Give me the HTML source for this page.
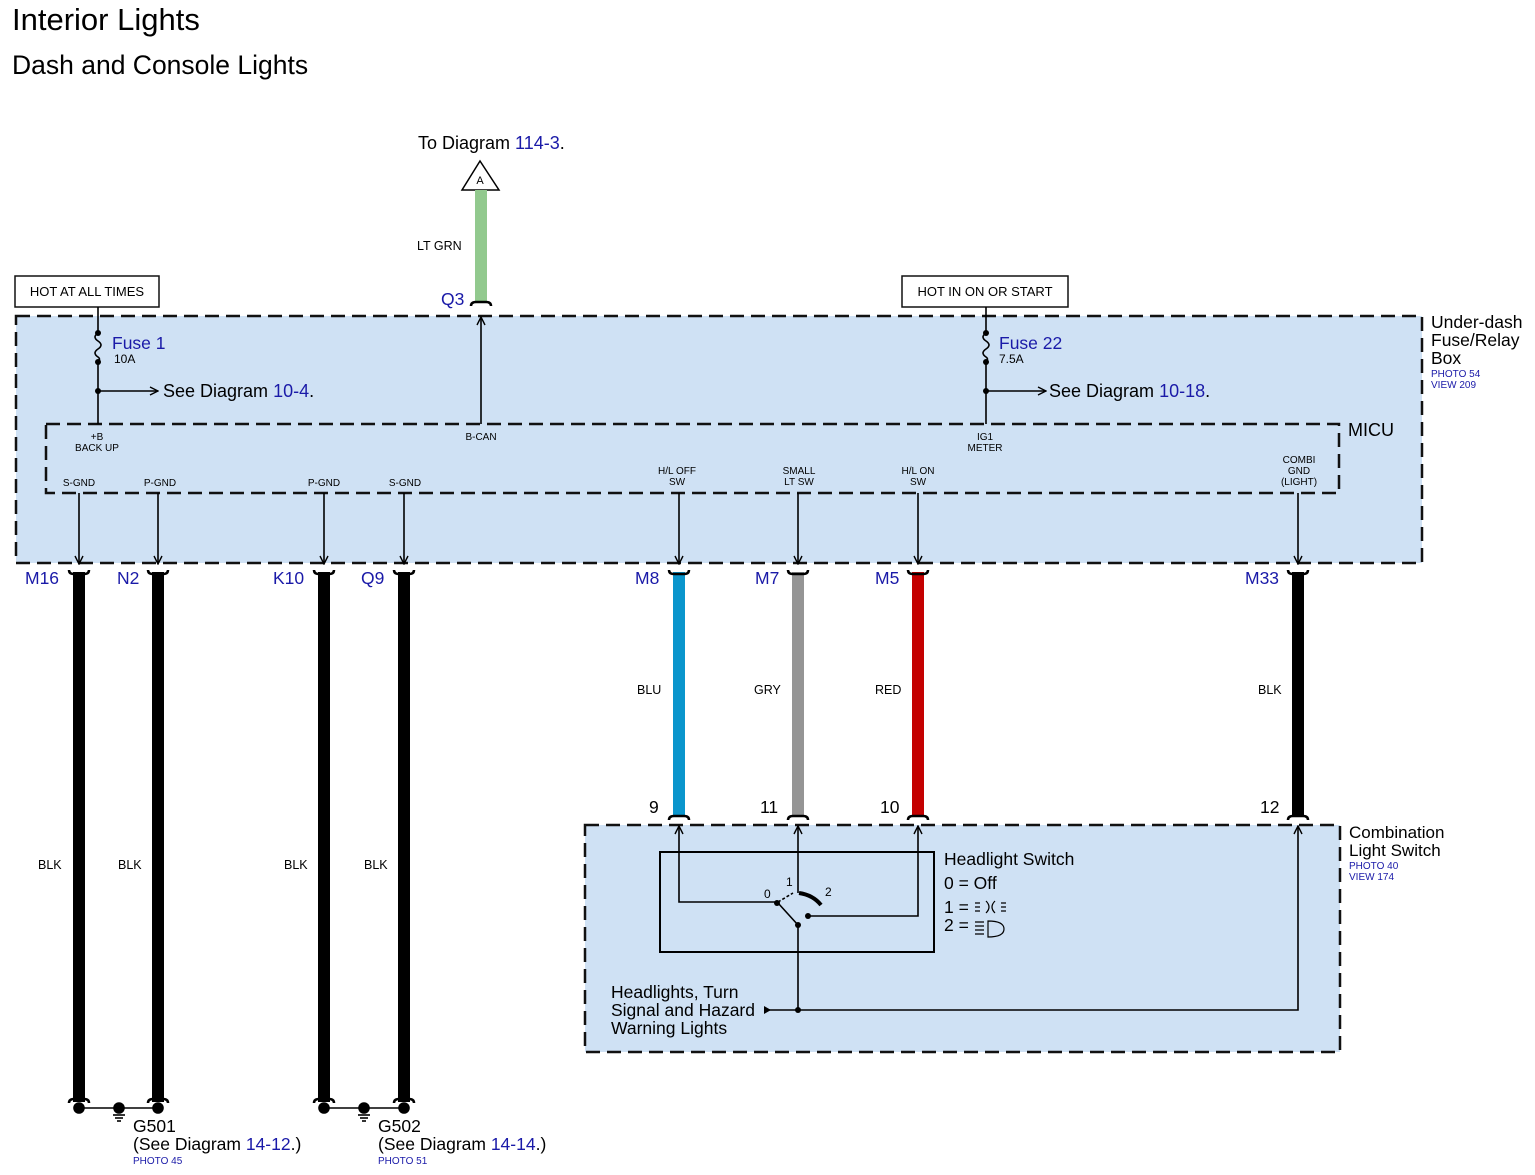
<!DOCTYPE html>
<html><head><meta charset="utf-8"><style>
html,body{margin:0;padding:0;background:#fff}
svg{display:block}
text{font-family:"Liberation Sans",Arial,sans-serif}
.b{fill:#1a1aa8}
</style></head><body>
<svg width="1535" height="1175" viewBox="0 0 1535 1175" xmlns="http://www.w3.org/2000/svg">
<defs>
<marker id="ar" markerWidth="10" markerHeight="10" refX="9" refY="5" orient="auto" markerUnits="userSpaceOnUse"><path d="M1,1 L9,5 L1,9" fill="none" stroke="#000" stroke-width="1.4"/></marker>
</defs>
<text x="12" y="30" font-size="31">Interior Lights</text>
<text x="12" y="74" font-size="26.5">Dash and Console Lights</text>

<rect x="16" y="316" width="1406" height="247" fill="#cfe1f4" stroke="#111" stroke-width="2.5" stroke-dasharray="14,7"/>
<rect x="46" y="424" width="1293" height="69" fill="#cfe1f4" stroke="#111" stroke-width="2.5" stroke-dasharray="14,7"/>
<text x="1431" y="328" font-size="17.5">Under-dash</text>
<text x="1431" y="346" font-size="17.5">Fuse/Relay</text>
<text x="1431" y="364" font-size="17.5">Box</text>
<text x="1431" y="377" font-size="10" class="b">PHOTO 54</text>
<text x="1431" y="388" font-size="10" class="b">VIEW 209</text>
<text x="1348" y="436" font-size="18">MICU</text>

<rect x="15" y="276" width="144" height="31" fill="#fff" stroke="#111" stroke-width="1.5"/>
<text x="87" y="296" font-size="13" text-anchor="middle">HOT AT ALL TIMES</text>
<rect x="902" y="276" width="166" height="31" fill="#fff" stroke="#111" stroke-width="1.5"/>
<text x="985" y="296" font-size="13" text-anchor="middle">HOT IN ON OR START</text>

<g stroke="#000" stroke-width="1.6" fill="none">
<path d="M98,307 V333 q-6,4 0,8 q6,4 0,8 q-6,4 0,8 q3,2 0,5 V424"/>
<path d="M98,391 H158" marker-end="url(#ar)"/>
<path d="M986,307 V333 q-6,4 0,8 q6,4 0,8 q-6,4 0,8 q3,2 0,5 V424"/>
<path d="M986,391 H1046" marker-end="url(#ar)"/>
<path d="M481,424 V317" marker-end="url(#ar)"/>
<path d="M79,493 V564" marker-end="url(#ar)"/>
<path d="M158,493 V564" marker-end="url(#ar)"/>
<path d="M324,493 V564" marker-end="url(#ar)"/>
<path d="M404,493 V564" marker-end="url(#ar)"/>
<path d="M679,493 V564" marker-end="url(#ar)"/>
<path d="M798,493 V564" marker-end="url(#ar)"/>
<path d="M918,493 V564" marker-end="url(#ar)"/>
<path d="M1298,493 V564" marker-end="url(#ar)"/>
</g>
<g fill="#000"><circle cx="98" cy="333" r="3"/><circle cx="98" cy="362" r="3"/><circle cx="98" cy="391" r="3"/>
<circle cx="986" cy="333" r="3"/><circle cx="986" cy="362" r="3"/><circle cx="986" cy="391" r="3"/></g>
<text x="112" y="349" font-size="17.5" class="b">Fuse 1</text>
<text x="114" y="363" font-size="12">10A</text>
<text x="163" y="397" font-size="18">See Diagram <tspan class="b">10-4</tspan>.</text>
<text x="999" y="349" font-size="17.5" class="b">Fuse 22</text>
<text x="999" y="363" font-size="12">7.5A</text>
<text x="1049" y="397" font-size="18">See Diagram <tspan class="b">10-18</tspan>.</text>

<g font-size="10" text-anchor="middle">
<text x="97" y="440">+B</text><text x="97" y="451">BACK UP</text>
<text x="481" y="440">B-CAN</text>
<text x="985" y="440">IG1</text><text x="985" y="451">METER</text>
<text x="79" y="486">S-GND</text><text x="160" y="486">P-GND</text>
<text x="324" y="486">P-GND</text><text x="405" y="486">S-GND</text>
<text x="677" y="474">H/L OFF</text><text x="677" y="485">SW</text>
<text x="799" y="474">SMALL</text><text x="799" y="485">LT SW</text>
<text x="918" y="474">H/L ON</text><text x="918" y="485">SW</text>
<text x="1299" y="463">COMBI</text><text x="1299" y="474">GND</text><text x="1299" y="485">(LIGHT)</text>
</g>

<text x="418" y="149" font-size="18">To Diagram <tspan class="b">114-3</tspan>.</text>
<path d="M480,161 L462,190 L499,190 Z" fill="#fff" stroke="#000" stroke-width="1.5"/>
<text x="480" y="184" font-size="11" text-anchor="middle">A</text>
<rect x="475" y="190" width="12" height="112" fill="#92c98e"/>
<path d="M471,306 q0,-4 5,-4 h10 q5,0 5,4" fill="none" stroke="#000" stroke-width="2.5"/>
<text x="417" y="250" font-size="12.5">LT GRN</text>
<text x="441" y="305" font-size="17.5" class="b">Q3</text>

<g>
<rect x="73" y="572" width="12" height="530" fill="#000"/>
<rect x="152" y="572" width="12" height="530" fill="#000"/>
<rect x="318" y="572" width="12" height="530" fill="#000"/>
<rect x="398" y="572" width="12" height="530" fill="#000"/>
<rect x="673" y="572" width="12" height="244" fill="#0a95cc"/>
<rect x="792" y="572" width="12" height="244" fill="#959595"/>
<rect x="912" y="572" width="12" height="244" fill="#c40000"/>
<rect x="1292" y="572" width="12" height="244" fill="#000"/>
</g>
<g fill="none" stroke="#000" stroke-width="2.5">
<path d="M69,570 q0,4 5,4 h10 q5,0 5,-4"/>
<path d="M148,570 q0,4 5,4 h10 q5,0 5,-4"/>
<path d="M314,570 q0,4 5,4 h10 q5,0 5,-4"/>
<path d="M394,570 q0,4 5,4 h10 q5,0 5,-4"/>
<path d="M669,570 q0,4 5,4 h10 q5,0 5,-4"/>
<path d="M788,570 q0,4 5,4 h10 q5,0 5,-4"/>
<path d="M908,570 q0,4 5,4 h10 q5,0 5,-4"/>
<path d="M1288,570 q0,4 5,4 h10 q5,0 5,-4"/>
<path d="M669,820 q0,-4 5,-4 h10 q5,0 5,4"/>
<path d="M788,820 q0,-4 5,-4 h10 q5,0 5,4"/>
<path d="M908,820 q0,-4 5,-4 h10 q5,0 5,4"/>
<path d="M1288,820 q0,-4 5,-4 h10 q5,0 5,4"/>
<path d="M69,1103 q0,-4 5,-4 h10 q5,0 5,4"/>
<path d="M148,1103 q0,-4 5,-4 h10 q5,0 5,4"/>
<path d="M314,1103 q0,-4 5,-4 h10 q5,0 5,4"/>
<path d="M394,1103 q0,-4 5,-4 h10 q5,0 5,4"/>
</g>
<g font-size="17.5" class="b">
<text x="25" y="584">M16</text><text x="117" y="584">N2</text>
<text x="273" y="584">K10</text><text x="361" y="584">Q9</text>
<text x="635" y="584">M8</text><text x="755" y="584">M7</text>
<text x="875" y="584">M5</text><text x="1245" y="584">M33</text>
</g>
<g font-size="12.5">
<text x="637" y="694">BLU</text><text x="754" y="694">GRY</text>
<text x="875" y="694">RED</text><text x="1258" y="694">BLK</text>
<text x="38" y="869">BLK</text><text x="118" y="869">BLK</text>
<text x="284" y="869">BLK</text><text x="364" y="869">BLK</text>
</g>
<g font-size="17.5">
<text x="649" y="813">9</text><text x="760" y="813">11</text>
<text x="880" y="813">10</text><text x="1260" y="813">12</text>
</g>

<g stroke="#000" stroke-width="1.6" fill="#000">
<line x1="79" y1="1108" x2="158" y2="1108"/>
<line x1="324" y1="1108" x2="404" y2="1108"/>
<circle cx="79" cy="1108" r="5"/><circle cx="158" cy="1108" r="5"/><circle cx="119" cy="1108" r="5"/>
<circle cx="324" cy="1108" r="5"/><circle cx="404" cy="1108" r="5"/><circle cx="364" cy="1108" r="5"/>
<line x1="113" y1="1115" x2="125" y2="1115"/><line x1="115" y1="1118" x2="123" y2="1118"/><line x1="117" y1="1121" x2="121" y2="1121"/>
<line x1="358" y1="1115" x2="370" y2="1115"/><line x1="360" y1="1118" x2="368" y2="1118"/><line x1="362" y1="1121" x2="366" y2="1121"/>
</g>
<text x="133" y="1132" font-size="17.5">G501</text>
<text x="133" y="1150" font-size="17.5">(See Diagram <tspan class="b">14-12</tspan>.)</text>
<text x="133" y="1164" font-size="10" class="b">PHOTO 45</text>
<text x="378" y="1132" font-size="17.5">G502</text>
<text x="378" y="1150" font-size="17.5">(See Diagram <tspan class="b">14-14</tspan>.)</text>
<text x="378" y="1164" font-size="10" class="b">PHOTO 51</text>

<rect x="585" y="825" width="755" height="227" fill="#cfe1f4" stroke="#111" stroke-width="2.5" stroke-dasharray="14,7"/>
<text x="1349" y="838" font-size="17">Combination</text>
<text x="1349" y="856" font-size="17">Light Switch</text>
<text x="1349" y="869" font-size="10" class="b">PHOTO 40</text>
<text x="1349" y="880" font-size="10" class="b">VIEW 174</text>
<rect x="660" y="852" width="274" height="100" fill="none" stroke="#000" stroke-width="2"/>
<g stroke="#000" stroke-width="1.6" fill="none">
<path d="M777,902 H679 V826" marker-end="url(#ar)"/>
<path d="M798,893 V826" marker-end="url(#ar)"/>
<path d="M810,916 H918 V826" marker-end="url(#ar)"/>
<path d="M798,925 L778,903"/>
<path d="M778,902 L793,893" stroke-dasharray="3,2"/>
<path d="M798,925 V1010 H1298 V826" marker-end="url(#ar)"/>
<path d="M798,1010 H765"/>
<path d="M799,893 q14,2 22,12" stroke-width="4"/>
</g>
<path d="M764,1006 L771,1010 L764,1014 Z" fill="#000"/>
<g fill="#000"><circle cx="777" cy="903" r="3"/><circle cx="808" cy="916" r="3"/><circle cx="798" cy="925" r="3"/><circle cx="798" cy="1010" r="3"/></g>
<g font-size="12"><text x="764" y="898">0</text><text x="786" y="886">1</text><text x="825" y="896">2</text></g>
<text x="944" y="865" font-size="17.5">Headlight Switch</text>
<text x="944" y="889" font-size="17.5">0 = Off</text>
<text x="944" y="913" font-size="17.5">1 = </text>
<text x="944" y="931" font-size="17.5">2 = </text>
<g stroke="#000" stroke-width="1.2" fill="none">
<path d="M986,901 q6,6 0,12 M995,901 q-6,6 0,12 M975,903 h5 M975,907 h5 M975,911 h5 M1001,903 h5 M1001,907 h5 M1001,911 h5"/>
<path d="M988,921 q16,0 16,8 q0,8 -16,8 z M975,922 h9 M975,926 h9 M975,930 h9 M975,934 h9"/>
</g>
<text x="611" y="998" font-size="17.5">Headlights, Turn</text>
<text x="611" y="1016" font-size="17.5">Signal and Hazard</text>
<text x="611" y="1034" font-size="17.5">Warning Lights</text>
</svg>
</body></html>
